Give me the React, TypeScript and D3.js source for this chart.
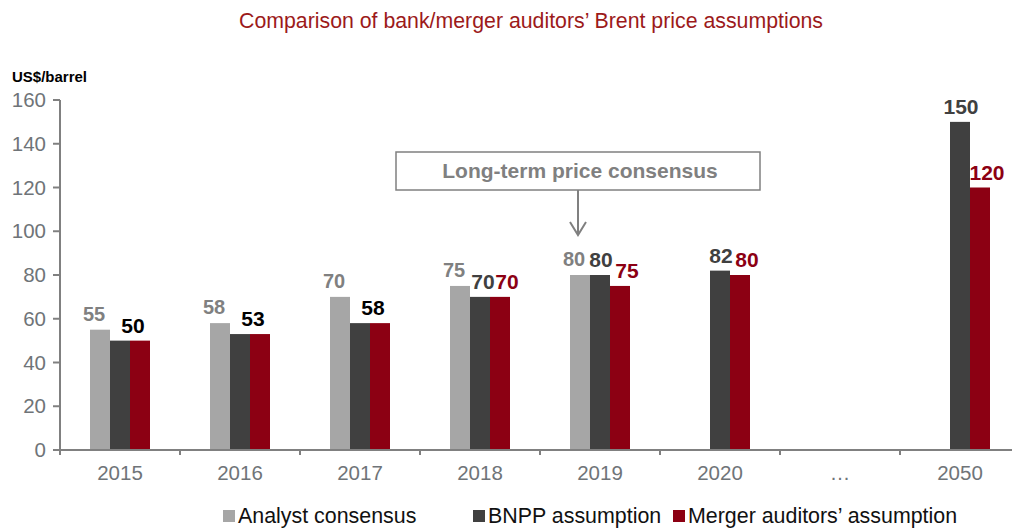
import * as d3 from "d3";

// values
const categories = ["2015", "2016", "2017", "2018", "2019", "2020", "…", "2050"];
const analyst = [55, 58, 70, 75, 80, null, null, null];
const bnpp = [50, 53, 58, 70, 80, 82, null, 150];
const merger = [50, 53, 58, 70, 75, 80, null, 120];
const yTicks = [0, 20, 40, 60, 80, 100, 120, 140, 160];
const sharedLabel = ["2015", "2016", "2017"]; // one black label for both equal bars

const seriesNames = ["Analyst consensus", "BNPP assumption", "Merger auditors’ assumption"];

const W = 1012;
const H = 529;
const FONT = "'Liberation Sans', Arial, sans-serif";

const barColors = ["#a6a6a6", "#404040", "#8c0013"];
const labelColors = ["#808080", "#404040", "#8c0013"];
const labelDx = [-6, 1, 7];
const axisGrey = "#808080";

export default function App() {
  const x = d3
    .scaleBand<string>()
    .domain(categories)
    .range([60, 1020])
    .paddingInner(0.5)
    .paddingOuter(0.25);
  const xSub = d3.scaleBand<number>().domain([0, 1, 2]).range([0, x.bandwidth()]);
  const y = d3.scaleLinear().domain([0, 160]).range([450, 100]);

  const series = [analyst, bnpp, merger];
  const step = x.step();

  const arrowX = (x("2019") ?? 0) + xSub(0)! + 8;

  return (
    <svg
      width={W}
      height={H}
      style={{ position: "absolute", left: 0, top: 0, background: "#fff" }}
      fontFamily={FONT}
    >
      <text x={531} y={28} textAnchor="middle" fontSize={21.3} fill="#9c1a1a">
        Comparison of bank/merger auditors’ Brent price assumptions
      </text>
      <text x={12} y={82} fontSize={15} fontWeight="bold" fill="#000">
        US$/barrel
      </text>

      {/* bars */}
      {series.map((vals, s) =>
        vals.map((v, i) =>
          v == null ? null : (
            <rect
              key={`b${s}-${i}`}
              x={(x(categories[i]) ?? 0) + xSub(s)!}
              y={y(v)}
              width={xSub.bandwidth()}
              height={y(0) - y(v)}
              fill={barColors[s]}
            />
          )
        )
      )}

      {/* y axis */}
      <line x1={60} x2={60} y1={y(160)} y2={y(0) + 5} stroke={axisGrey} strokeWidth={2} />
      {yTicks.map((t) => (
        <g key={t}>
          <line x1={53} x2={60} y1={y(t)} y2={y(t)} stroke={axisGrey} strokeWidth={2} />
          <text
            x={46}
            y={y(t)}
            dy="0.35em"
            textAnchor="end"
            fontSize={20.5}
            fill="#6f7478"
          >
            {t}
          </text>
        </g>
      ))}

      {/* x axis */}
      <line x1={60} x2={1020} y1={y(0)} y2={y(0)} stroke={axisGrey} strokeWidth={2} />
      {categories.map((c) => {
        const left = (x(c) ?? 0) - (step - x.bandwidth()) / 2;
        return (
          <g key={c}>
            <line x1={left} x2={left} y1={y(0)} y2={y(0) + 5} stroke={axisGrey} strokeWidth={2} />
            <text
              x={(x(c) ?? 0) + x.bandwidth() / 2}
              y={480}
              textAnchor="middle"
              fontSize={20.5}
              fill="#6f7478"
            >
              {c}
            </text>
          </g>
        );
      })}

      {/* value labels */}
      {categories.map((c, i) => {
        const bx = x(c) ?? 0;
        const out = [];
        if (analyst[i] != null) {
          out.push(
            <text
              key="a"
              x={bx + xSub(0)! + xSub.bandwidth() / 2 + labelDx[0]}
              y={y(analyst[i] as number) - 9}
              textAnchor="middle"
              fontSize={20}
              fontWeight="bold"
              fill={labelColors[0]}
            >
              {analyst[i]}
            </text>
          );
        }
        if (sharedLabel.includes(c)) {
          out.push(
            <text
              key="s"
              x={bx + xSub(2)! + 3}
              y={y(merger[i] as number) - 8}
              textAnchor="middle"
              fontSize={21}
              fontWeight="bold"
              fill="#000"
            >
              {merger[i]}
            </text>
          );
        } else {
          [1, 2].forEach((s) => {
            const v = series[s][i];
            if (v == null) return;
            out.push(
              <text
                key={`l${s}`}
                x={bx + xSub(s)! + xSub.bandwidth() / 2 + labelDx[s] + (c === "2018" && s === 1 ? 2 : 0)}
                y={y(v) - 8}
                textAnchor="middle"
                fontSize={21}
                fontWeight="bold"
                fill={labelColors[s]}
              >
                {v}
              </text>
            );
          });
        }
        return <g key={`lab${c}`}>{out}</g>;
      })}

      {/* annotation */}
      <rect x={396} y={152} width={364} height={38} fill="#fff" stroke={axisGrey} strokeWidth={1.5} />
      <text x={580} y={178} textAnchor="middle" fontSize={21} fontWeight="bold" fill="#808080">
        Long-term price consensus
      </text>
      <line x1={arrowX} x2={arrowX} y1={190} y2={235} stroke={axisGrey} strokeWidth={2} />
      <polyline
        points={`${arrowX - 8},${222} ${arrowX},${235} ${arrowX + 8},${222}`}
        fill="none"
        stroke={axisGrey}
        strokeWidth={2}
      />

      {/* legend */}
      {seriesNames.map((name, s) => {
        const lx = [223, 473, 673][s];
        return (
          <g key={name}>
            <rect x={lx} y={510} width={12} height={12} fill={barColors[s]} />
            <text x={lx + 15} y={523} fontSize={21.4} fill="#111">
              {name}
            </text>
          </g>
        );
      })}
    </svg>
  );
}
